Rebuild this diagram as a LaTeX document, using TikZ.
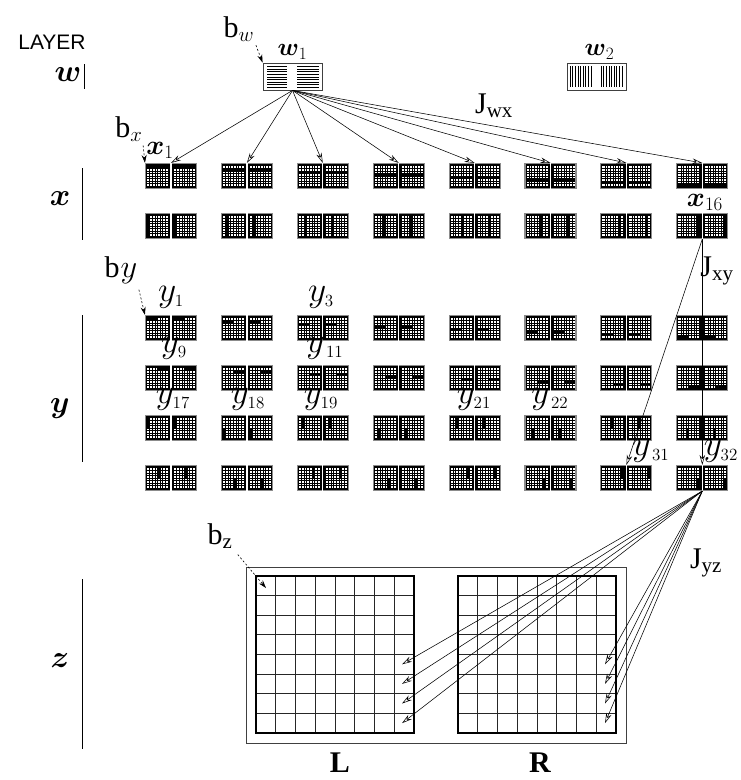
\documentclass[tikz,border=0pt]{standalone}
\usepackage{amsmath}
\usepackage{amssymb}
\usepackage{fontspec}
\setmainfont{Liberation Serif}
\newfontfamily\layerfont{Liberation Sans}
\usetikzlibrary{positioning,arrows.meta}

\tikzset{
  unitbox/.style={draw=black!45, line width=1.1pt, fill=black, minimum width=51pt, minimum height=25pt, inner sep=0pt},
  meshline/.style={black, line width=0.75pt},
  wbox/.style={draw=black!75, line width=0.8pt, fill=white, minimum width=59pt, minimum height=27pt, inner sep=0pt},
  zbox/.style={draw, line width=1.4pt, minimum width=158pt, minimum height=157pt, inner sep=0pt, anchor=north west},
  zline/.style={black!85, line width=0.8pt},
  link/.style={-{Stealth[open,length=10pt,width=5.5pt]}, line width=0.55pt},
  bias/.style={-{Stealth[length=8pt,width=5pt]}, dash pattern=on 2pt off 2pt, line width=0.6pt},
  layerbar/.style={line width=0.7pt},
  layerlab/.style={font=\fontsize{24}{26}\selectfont, inner sep=0pt, scale=1.25},
  unitlab/.style={font=\fontsize{24}{26}\selectfont, inner sep=0pt},
  ylab/.style={font=\fontsize{24}{26}\selectfont, inner sep=0pt, scale=1.42},
  biaslab/.style={font=\fontsize{30}{32}\selectfont, inner sep=0pt},
}

% one unit: name, centre x, centre y, list of black cells c1/r1/c2/r2
\newcommand{\netunit}[4]{%
  \node[unitbox] (#1) at ({#2},{#3}) {};
  \foreach \hx in {-24,3}{
    \begin{scope}[shift={({#2+(\hx)},{#3-10})}]
      \fill[white] (0,0) rectangle (21,20);
      \foreach \m in {1,...,7}{
        \draw[meshline] ({\m*2.625},0) -- ({\m*2.625},20);
        \draw[meshline] (0,{\m*2.5}) -- (21,{\m*2.5});
      }
      \foreach \ca/\ra/\cb/\rb in {#4}
        \fill[black] ({(\ca-1)*2.625-0.4},{(\ra-1)*2.5-0.4}) rectangle ({\cb*2.625+0.4},{\rb*2.5+0.4});
    \end{scope}
  }
  \draw[white, line width=1.3pt] (#1.north) -- (#1.south);
}

% label of a y unit
\newcommand{\ynm}[1]{$y_{\scriptscriptstyle #1}$}

% 8x8 grid of layer z: name, left x, top y
\newcommand{\zgrid}[3]{%
  \node[zbox] (#1) at (#2,#3) {};
  \foreach \m in {1,...,7}{
    \draw[zline] ({#2+\m*19.75},#3) -- ({#2+\m*19.75},{#3+157});
    \draw[zline] (#2,{#3+\m*19.625}) -- ({#2+158},{#3+\m*19.625});
  }
  \draw[line width=1.4pt] (#2,#3) rectangle ({#2+158},{#3+157});
}

\begin{document}
\begin{tikzpicture}[x=1pt,y=-1pt]
  \useasboundingbox (0,0) rectangle (741,780);

  % layer names
  \node[font=\layerfont\fontsize{21}{23}\selectfont, inner sep=0pt] (layer) at (52,42) {LAYER};
  \node[layerlab] (lw) at (68,75) {$\boldsymbol{w}$};
  \node[layerlab] (lx) at (60,199) {$\boldsymbol{x}$};
  \node[layerlab] (ly) at (60,409) {$\boldsymbol{y}$};
  \node[layerlab] (lz) at (60,661) {$\boldsymbol{z}$};
  \draw[layerbar] (84,64) -- (84,89);
  \draw[layerbar] (82,168) -- (82,240);
  \draw[layerbar] (82,315) -- (82,462);
  \draw[layerbar] (82,579) -- (82,749);

  % layer w
  \node[wbox] (w1) at (292.5,76.5) {};
  \foreach \m in {0,...,8}{
    \draw[line width=0.6pt] (267,{66.5+\m*2.6}) -- (287,{66.5+\m*2.6});
    \draw[line width=0.6pt] (297,{66.5+\m*2.6}) -- (319,{66.5+\m*2.6});
  }
  \node[wbox] (w2) at (596.5,76.5) {};
  \foreach \m in {0,...,8}{
    \draw[line width=0.6pt] ({570+\m*2.6},66) -- ({570+\m*2.6},87);
    \draw[line width=0.6pt] ({601+\m*2.6},66) -- ({601+\m*2.6},87);
  }
  \node[unitlab, above=3pt of w1] (lw1) {$\boldsymbol{w}_1$};
  \node[unitlab, above=3pt of w2, xshift=3pt] (lw2) {$\boldsymbol{w}_2$};
  \node[biaslab] (bw) at (239,29) {b$_{w}$};
  \draw[bias, shorten <=4pt] (bw.south east) -- (w1.north west);

  % layer x
  \foreach \k in {1,...,8}
    \netunit{x\k}{171+75.9*(\k-1)}{176}{1/\k/8/\k};
  \foreach \k [evaluate=\k as \n using int(\k+8)] in {1,...,8}
    \netunit{x\n}{171+75.9*(\k-1)}{226}{\k/1/\k/8};
  \node[unitlab, scale=1.1] (lx1) at (160,150) {$\boldsymbol{x}_1$};
  \node[unitlab, scale=1.1] (lx16) at (705,202) {$\boldsymbol{x}_{16}$};
  \node[biaslab] (bx) at (129,129) {b$_{x}$};
  \draw[bias, shorten <=4pt] (bx.south east) -- (x1.north west);

  % layer y
  \foreach \k in {1,...,8}
    \netunit{y\k}{171+75.9*(\k-1)}{328}{1/\k/4/\k};
  \foreach \k [evaluate=\k as \n using int(\k+8)] in {1,...,8}
    \netunit{y\n}{171+75.9*(\k-1)}{378}{5/\k/8/\k};
  \foreach \c [evaluate=\c as \na using int(15+2*\c),
               evaluate=\c as \nb using int(16+2*\c)] in {1,...,4}{
    \netunit{y\na}{171+75.9*(2*\c-2)}{428}{\c/1/\c/4};
    \netunit{y\nb}{171+75.9*(2*\c-1)}{428}{\c/5/\c/8};
  }
  \foreach \c [evaluate=\c as \na using int(15+2*\c),
               evaluate=\c as \nb using int(16+2*\c)] in {5,...,8}{
    \netunit{y\na}{171+75.9*(2*\c-10)}{478}{\c/1/\c/4};
    \netunit{y\nb}{171+75.9*(2*\c-9)}{478}{\c/5/\c/8};
  }
  \node[ylab] (ly1) at (171,297) {\ynm{1}};
  \node[ylab] (ly3) at (321,297) {\ynm{3}};
  \node[ylab] (ly9) at (174,348) {\ynm{9}};
  \node[ylab] (ly11) at (325,348) {\ynm{\,11}};
  \node[ylab] (ly17) at (173,399) {\ynm{17}};
  \node[ylab] (ly18) at (248,399) {\ynm{18}};
  \node[ylab] (ly19) at (321,399) {\ynm{19}};
  \node[ylab] (ly21) at (474,399) {\ynm{21}};
  \node[ylab] (ly22) at (550,399) {\ynm{\,22}};
  \node[ylab] (ly31) at (651,451) {\ynm{\,31}};
  \node[ylab] (ly32) at (721,451) {\ynm{32}};
  \node[biaslab] (by) at (121,270) {b\kern1pt\scalebox{1.3}{$y$}};
  \draw[bias, shorten <=6pt] (by.south east) -- (y1.north west);

  % layer z
  \node[draw=black!75, line width=0.8pt, minimum width=380pt, minimum height=176pt,
        inner sep=0pt, anchor=north west] (zlayer) at (246,567) {};
  \zgrid{zL}{256}{576}
  \zgrid{zR}{458}{576}
  \node[font=\fontsize{30}{32}\selectfont\bfseries, inner sep=0pt] (labL) at (340,763) {L};
  \node[font=\fontsize{30}{32}\selectfont\bfseries, inner sep=0pt] (labR) at (540,763) {R};
  \node[biaslab] (bz) at (220,536) {b$_{\mathrm{z}}$};
  \coordinate (zbias) at (266,588);
  \draw[bias, shorten <=8pt] (bz.south east) -- (zbias);
  \foreach \r in {5,...,8}{
    \coordinate (zL\r) at (402,{576+19.625*(\r-0.5)});
    \coordinate (zR\r) at (605,{576+19.625*(\r-0.5)});
  }

  % weights
  \foreach \k in {1,...,8}
    \draw[link] (w1.south) -- (x\k.north);
  \draw[link] (x16.south) -- (y31.north);
  \draw[link] (x16.south) -- (y32.north);
  \foreach \r in {5,...,8}{
    \draw[link] (y32.south) -- (zL\r);
    \draw[link] (y32.south) -- (zR\r);
  }
  \node[biaslab] (jwx) at (494,106) {J\textsubscript{wx}};
  \node[biaslab] (jxy) at (717,271) {J\textsubscript{xy}};
  \node[biaslab] (jyz) at (706,563) {J\textsubscript{yz}};
\end{tikzpicture}
\end{document}
